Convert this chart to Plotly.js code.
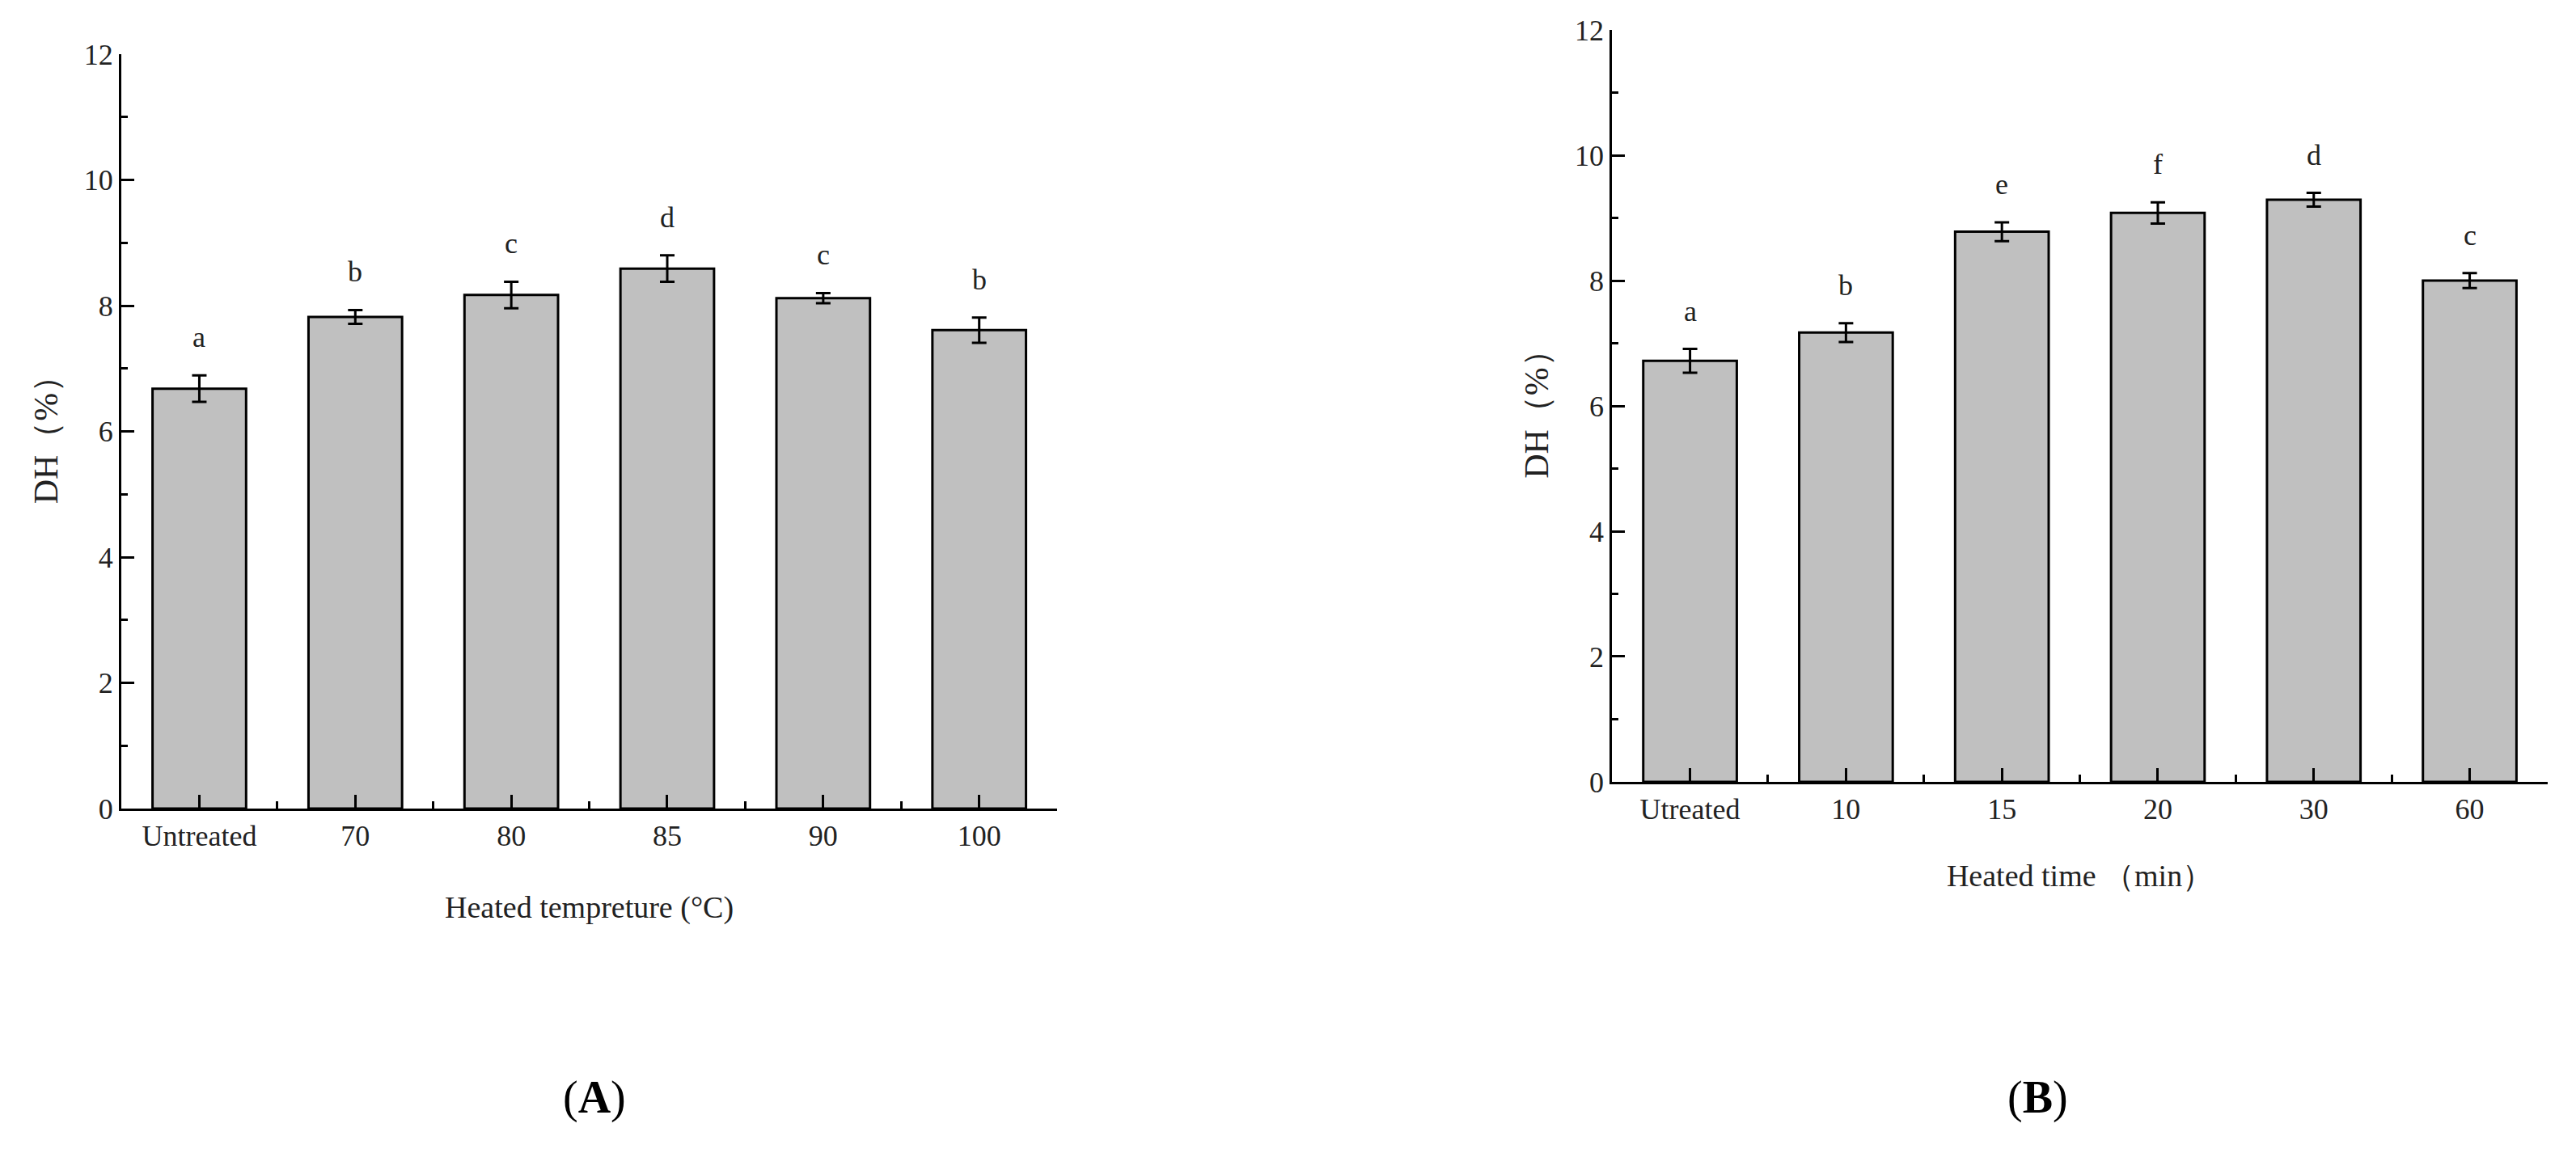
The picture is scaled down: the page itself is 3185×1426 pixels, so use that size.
<!DOCTYPE html>
<html>
<head>
<meta charset="utf-8">
<script src="https://cdn.plot.ly/plotly-3.0.1.min.js"></script>
<style>
  html, body { margin: 0; padding: 0; background: #fff; }
  #plot { width: 3185px; height: 1426px; }
</style>
</head>
<body>
<div id="plot"></div>
<script>
// Panel A: heating temperature
let tempLabels = ['Untreated', '70', '80', '85', '90', '100'];
let tempDH = [6.68, 7.82, 8.17, 8.59, 8.12, 7.61];
let tempErr = [0.21, 0.11, 0.21, 0.21, 0.08, 0.20];
let tempLetters = ['a', 'b', 'c', 'd', 'c', 'b'];

// Panel B: heating time
let timeLabels = ['Utreated', '10', '15', '20', '30', '60'];
let timeDH = [6.72, 7.17, 8.78, 9.08, 9.29, 8.00];
let timeErr = [0.19, 0.15, 0.15, 0.17, 0.11, 0.12];
let timeLetters = ['a', 'b', 'e', 'f', 'd', 'c'];

let serif = '"Liberation Serif", "Times New Roman", serif';

function barTrace(labels, values, errs, xa, ya) {
  return {
    x: labels.map((_, i) => i),
    y: values,
    type: 'bar',
    width: 0.6,
    xaxis: xa,
    yaxis: ya,
    marker: { color: '#c0c0c0', line: { color: '#000', width: 3 } },
    error_y: { type: 'data', array: errs, visible: true, color: '#000', thickness: 3, width: 9 },
    showlegend: false,
    hoverinfo: 'x+y'
  };
}

let data = [
  barTrace(tempLabels, tempDH, tempErr, 'x', 'y'),
  barTrace(timeLabels, timeDH, timeErr, 'x2', 'y2')
];

function xAxis(labels, domain, anchor, title, standoff) {
  return {
    domain: domain,
    anchor: anchor,
    range: [-0.5, 5.5],
    tickmode: 'array',
    tickvals: labels.map((_, i) => i),
    ticktext: labels,
    ticks: 'inside',
    ticklen: 17,
    tickwidth: 3,
    tickcolor: '#000',
    minor: { tick0: 0.5, dtick: 1, ticks: 'inside', ticklen: 9, tickwidth: 3, tickcolor: '#000' },
    showline: true,
    linecolor: '#000',
    linewidth: 3,
    showgrid: false,
    zeroline: false,
    tickfont: { family: serif, size: 36, color: '#222' },
    title: { text: title, font: { family: serif, size: 38, color: '#222' }, standoff: standoff }
  };
}

function yAxis(domain, anchor) {
  return {
    domain: domain,
    anchor: anchor,
    range: [0, 12],
    dtick: 2,
    ticks: 'inside',
    ticklen: 16,
    tickwidth: 3,
    tickcolor: '#000',
    minor: { dtick: 1, ticks: 'inside', ticklen: 8, tickwidth: 3, tickcolor: '#000' },
    showline: true,
    linecolor: '#000',
    linewidth: 3,
    showgrid: false,
    zeroline: false,
    tickfont: { family: serif, size: 36, color: '#222' },
    title: { text: 'DH（%）', font: { family: serif, size: 42, color: '#222' }, standoff: 20 }
  };
}

function letterNotes(values, errs, letters, xa, ya) {
  return letters.map((t, i) => ({
    x: i,
    y: values[i] + errs[i],
    xref: xa,
    yref: ya,
    text: t,
    showarrow: false,
    yanchor: 'bottom',
    yshift: 25,
    font: { family: serif, size: 36, color: '#222' }
  }));
}

let annotations = []
  .concat(letterNotes(tempDH, tempErr, tempLetters, 'x', 'y'))
  .concat(letterNotes(timeDH, timeErr, timeLetters, 'x2', 'y2'))
  .concat([
    { x: 0.2308, y: 0.048, xref: 'paper', yref: 'paper', xanchor: 'center', yanchor: 'middle',
      text: '(<b>A</b>)', showarrow: false, font: { family: serif, size: 56, color: '#000' } },
    { x: 0.791, y: 0.048, xref: 'paper', yref: 'paper', xanchor: 'center', yanchor: 'middle',
      text: '(<b>B</b>)', showarrow: false, font: { family: serif, size: 56, color: '#000' } }
  ]);

let layout = {
  width: 3185,
  height: 1426,
  margin: { l: 0, r: 0, t: 0, b: 0 },
  paper_bgcolor: '#fff',
  plot_bgcolor: '#fff',
  xaxis: xAxis(tempLabels, [0.0471, 0.4104], 'y', 'Heated tempreture (°C)', 56),
  yaxis: yAxis([0.2987, 0.953], 'x'),
  xaxis2: xAxis(timeLabels, [0.6258, 0.989], 'y2', 'Heated time （min）', 50),
  yaxis2: yAxis([0.3219, 0.974], 'x2'),
  annotations: annotations
};

Plotly.newPlot('plot', data, layout, { staticPlot: true });
</script>
</body>
</html>
